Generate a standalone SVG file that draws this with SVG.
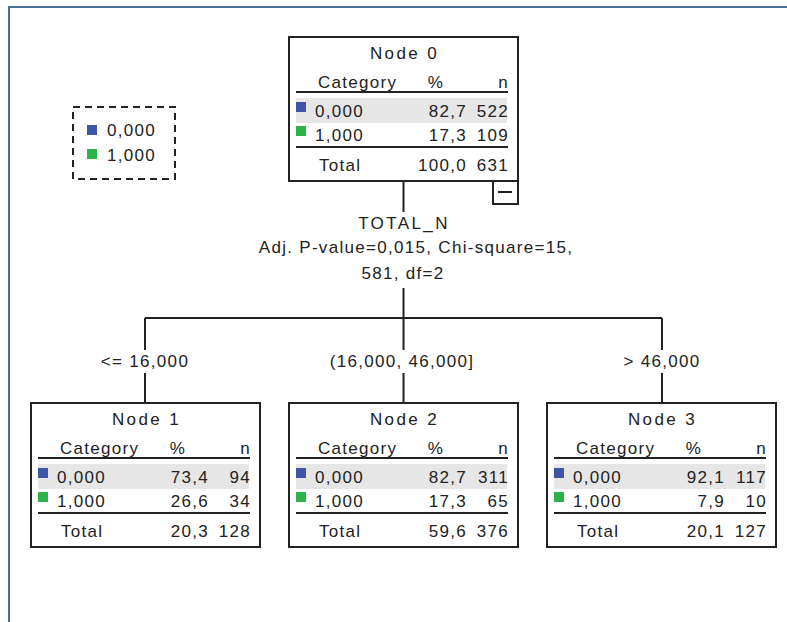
<svg xmlns="http://www.w3.org/2000/svg" width="787" height="622" viewBox="0 0 787 622">
<style>
text{font-family:"Liberation Sans",Arial,sans-serif;font-size:17px;fill:#222;letter-spacing:1.3px}
.m{text-anchor:middle}
.e{text-anchor:end}
.t{letter-spacing:2.4px}
.box{fill:#fff;stroke:#222;stroke-width:2}
.rule{stroke:#222;stroke-width:2}
.hl{fill:#e6e6e6}
.c0{fill:#3f56a8}
.c1{fill:#2db24a}
.conn{fill:none;stroke:#222;stroke-width:2}
</style>
<rect width="787" height="622" fill="#fff"/>
<path d="M9 622 V7 H787" fill="none" stroke="#46718f" stroke-width="2"/>

<g id="legend">
<rect x="73" y="107" width="102" height="72" fill="none" stroke="#222" stroke-width="2" stroke-dasharray="7 5"/>
<rect class="c0" x="87" y="125" width="10" height="10"/>
<text x="107" y="136">0,000</text>
<rect class="c1" x="87" y="149" width="10" height="10"/>
<text x="107" y="161">1,000</text>
</g>

<g id="connectors" class="conn">
<path d="M403.5 181 V212"/>
<path d="M403.5 288 V318"/>
<path d="M145 318 H662"/>
<path d="M145 318 V350 M145 373 V403"/>
<path d="M403.5 318 V350 M403.5 373 V403"/>
<path d="M662 318 V350 M662 373 V403"/>
</g>
<g id="labels">
<text class="m t" x="404" y="229">TOTAL_N</text>
<text class="m" x="416" y="253">Adj. P-value=0,015, Chi-square=15,</text>
<text class="m" x="403" y="279">581, df=2</text>
<text class="m" x="145" y="367">&lt;= 16,000</text>
<text class="m" x="402" y="367">(16,000, 46,000]</text>
<text class="m" x="662" y="367">&gt; 46,000</text>
</g>

<g id="node0" transform="translate(289,37)">
<rect class="box" x="0" y="0" width="229" height="144"/>
<text class="m t" x="115.5" y="22">Node 0</text>
<text x="29" y="51">Category</text><text class="m" x="147" y="51">%</text><text class="e" x="220" y="51">n</text>
<line class="rule" x1="7" y1="55" x2="219" y2="55"/>
<rect class="hl" x="7" y="61" width="211" height="25"/>
<rect class="c0" x="7" y="65" width="10" height="10"/>
<text x="26" y="80">0,000</text><text class="e" x="178" y="80">82,7</text><text class="e" x="220" y="80">522</text>
<rect class="c1" x="7" y="89" width="10" height="10"/>
<text x="26" y="104">1,000</text><text class="e" x="178" y="104">17,3</text><text class="e" x="220" y="104">109</text>
<line class="rule" x1="7" y1="110" x2="219" y2="110"/>
<text x="30" y="134">Total</text><text class="e" x="178" y="134">100,0</text><text class="e" x="220" y="134">631</text>
<rect class="box" x="204" y="144" width="25" height="23"/>
<line class="rule" x1="209" y1="155" x2="223" y2="155"/>
</g>

<g id="node1" transform="translate(31,403)">
<rect class="box" x="0" y="0" width="229" height="144"/>
<text class="m t" x="115.5" y="22">Node 1</text>
<text x="29" y="51">Category</text><text class="m" x="147" y="51">%</text><text class="e" x="220" y="51">n</text>
<line class="rule" x1="7" y1="55" x2="219" y2="55"/>
<rect class="hl" x="7" y="61" width="211" height="25"/>
<rect class="c0" x="7" y="65" width="10" height="10"/>
<text x="26" y="80">0,000</text><text class="e" x="178" y="80">73,4</text><text class="e" x="220" y="80">94</text>
<rect class="c1" x="7" y="89" width="10" height="10"/>
<text x="26" y="104">1,000</text><text class="e" x="178" y="104">26,6</text><text class="e" x="220" y="104">34</text>
<line class="rule" x1="7" y1="110" x2="219" y2="110"/>
<text x="30" y="134">Total</text><text class="e" x="178" y="134">20,3</text><text class="e" x="220" y="134">128</text>
</g>

<g id="node2" transform="translate(289,403)">
<rect class="box" x="0" y="0" width="229" height="144"/>
<text class="m t" x="115.5" y="22">Node 2</text>
<text x="29" y="51">Category</text><text class="m" x="147" y="51">%</text><text class="e" x="220" y="51">n</text>
<line class="rule" x1="7" y1="55" x2="219" y2="55"/>
<rect class="hl" x="7" y="61" width="211" height="25"/>
<rect class="c0" x="7" y="65" width="10" height="10"/>
<text x="26" y="80">0,000</text><text class="e" x="178" y="80">82,7</text><text class="e" x="220" y="80">311</text>
<rect class="c1" x="7" y="89" width="10" height="10"/>
<text x="26" y="104">1,000</text><text class="e" x="178" y="104">17,3</text><text class="e" x="220" y="104">65</text>
<line class="rule" x1="7" y1="110" x2="219" y2="110"/>
<text x="30" y="134">Total</text><text class="e" x="178" y="134">59,6</text><text class="e" x="220" y="134">376</text>
</g>

<g id="node3" transform="translate(547,403)">
<rect class="box" x="0" y="0" width="229" height="144"/>
<text class="m t" x="115.5" y="22">Node 3</text>
<text x="29" y="51">Category</text><text class="m" x="147" y="51">%</text><text class="e" x="220" y="51">n</text>
<line class="rule" x1="7" y1="55" x2="219" y2="55"/>
<rect class="hl" x="7" y="61" width="211" height="25"/>
<rect class="c0" x="7" y="65" width="10" height="10"/>
<text x="26" y="80">0,000</text><text class="e" x="178" y="80">92,1</text><text class="e" x="220" y="80">117</text>
<rect class="c1" x="7" y="89" width="10" height="10"/>
<text x="26" y="104">1,000</text><text class="e" x="178" y="104">7,9</text><text class="e" x="220" y="104">10</text>
<line class="rule" x1="7" y1="110" x2="219" y2="110"/>
<text x="30" y="134">Total</text><text class="e" x="178" y="134">20,1</text><text class="e" x="220" y="134">127</text>
</g>
</svg>
